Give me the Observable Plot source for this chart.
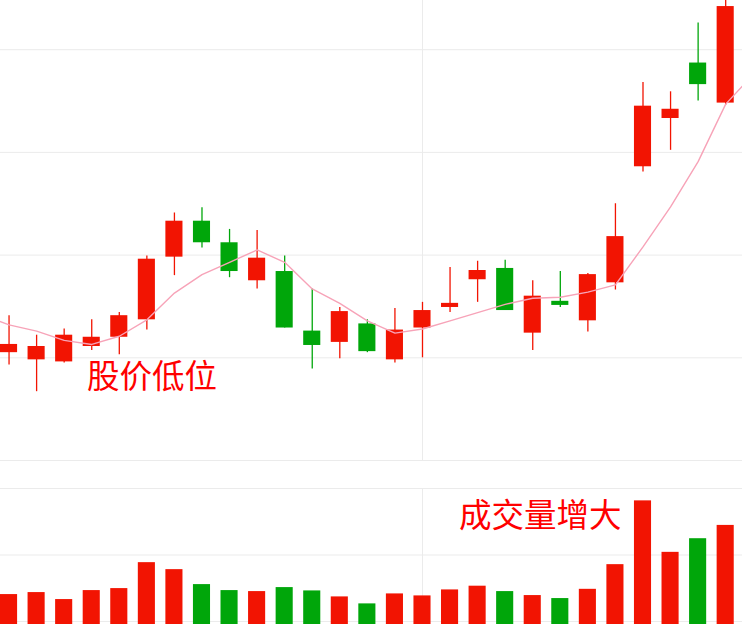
<!DOCTYPE html>
<html><head><meta charset="utf-8">
<script src="https://cdn.jsdelivr.net/npm/d3@7"></script>
<script src="https://cdn.jsdelivr.net/npm/@observablehq/plot@0.6"></script>
<style>
html,body{margin:0;padding:0;background:#fff;overflow:hidden}
#wrap{position:relative;width:742px;height:624px;background:#fff}
#wrap svg{display:block;overflow:hidden}
.note{position:absolute;font-family:"Noto Sans CJK SC","Noto Sans CJK JP",sans-serif;font-size:32.5px;line-height:32px;color:#ff0000;white-space:nowrap}
</style></head><body><div id="wrap"></div>
<script>
// ---- data ----
const opens  = [11.05,10.98,10.96,11.11,11.20,11.37,11.98,12.33,12.12,11.75,11.84,11.26,11.15,11.33,10.98,11.29,11.49,11.76,11.87,11.24,11.55,11.36,11.73,12.86,13.33,13.87,13.48];
const closes = [11.13,11.11,11.22,11.20,11.41,11.96,12.33,12.12,11.84,11.97,11.29,11.12,11.45,11.06,11.27,11.46,11.53,11.85,11.46,11.60,11.51,11.81,12.18,13.45,13.42,13.66,14.42];
const highs  = [11.41,11.22,11.28,11.37,11.44,11.99,12.41,12.46,12.25,12.24,11.99,11.67,11.49,11.37,11.48,11.54,11.88,11.94,11.95,11.75,11.84,11.82,12.50,13.68,13.59,14.26,14.55];
const lows   = [10.93,10.67,10.95,11.07,11.03,11.27,11.80,12.07,11.78,11.67,11.29,10.89,10.99,11.05,10.95,11.00,11.44,11.54,11.46,11.07,11.49,11.25,11.66,12.81,13.02,13.50,13.46];
const volumes = [1.405,1.435,1.33,1.465,1.495,1.885,1.78,1.555,1.465,1.45,1.51,1.46,1.37,1.265,1.415,1.385,1.475,1.531,1.45,1.39,1.345,1.484,1.855,2.814,2.04,2.245,2.445];
// moving average, starting one day before the first visible candle and ending one day after the last
const maStart = -1;
const maValues = [11.42,11.32,11.26,11.17,11.13,11.21,11.37,11.63,11.81,11.93,12.05,11.93,11.67,11.53,11.36,11.24,11.28,11.36,11.44,11.52,11.58,11.59,11.64,11.71,12.08,12.47,12.91,13.47,13.76];
const priceGridTicks = [10, 11, 12, 13, 14];
const volumeGridTicks = [1, 2, 3];
const dayGridTicks = [15];
const labelPrice = "股价低位";
const labelVolume = "成交量增大";

// ---- tables ----
const candles = opens.map((o, i) => ({i, open: o, close: closes[i], high: highs[i], low: lows[i], vol: volumes[i], dir: closes[i] >= o ? "up" : "down"}));
const ma = maValues.map((v, k) => ({i: k + maStart, v}));

const RED = "#f21402", GREEN = "#00a60a", GRID = "#ebebeb";
const hw = 0.31;
const xOpt = {domain: [-0.31, 26.61], axis: null};
const colorOpt = {domain: ["up", "down"], range: [RED, GREEN]};

const price = Plot.plot({
  width: 742, height: 461, marginTop: 0, marginBottom: 1, marginLeft: 0, marginRight: 0,
  x: xOpt, y: {domain: [10, 14.479], axis: null}, color: colorOpt,
  style: {background: "white", overflow: "hidden"},
  marks: [
    Plot.ruleY(priceGridTicks, {stroke: GRID, strokeWidth: 1}),
    Plot.ruleX(dayGridTicks, {stroke: GRID, strokeWidth: 1}),
    Plot.ruleX(candles, {x: "i", y1: "low", y2: "high", stroke: "dir", strokeWidth: 1.3}),
    Plot.rect(candles, {x1: d => d.i - hw, x2: d => d.i + hw, y1: "open", y2: "close", fill: "dir"}),
    Plot.line(ma, {x: "i", y: "v", stroke: "#f7a3b8", strokeWidth: 1.4, clip: true})
  ]
});

const volume = Plot.plot({
  width: 742, height: 163, marginTop: 27, marginBottom: 0, marginLeft: 0, marginRight: 0,
  x: xOpt, y: {domain: [0.955, 3], axis: null}, color: colorOpt,
  style: {background: "white", overflow: "hidden"},
  marks: [
    Plot.ruleY(volumeGridTicks, {stroke: GRID, strokeWidth: 1}),
    Plot.ruleX(dayGridTicks, {stroke: GRID, strokeWidth: 1}),
    Plot.rect(candles, {x1: d => d.i - hw, x2: d => d.i + hw, y1: 0, y2: "vol", fill: "dir", clip: true})
  ]
});

const wrap = document.getElementById("wrap");
wrap.appendChild(price);
wrap.appendChild(volume);

const n1 = document.createElement("div");
n1.className = "note"; n1.textContent = labelPrice;
n1.style.left = "87px"; n1.style.top = "358px";
wrap.appendChild(n1);
const n2 = document.createElement("div");
n2.className = "note"; n2.textContent = labelVolume;
n2.style.left = "459px"; n2.style.top = "497px";
wrap.appendChild(n2);
</script>
</body></html>
